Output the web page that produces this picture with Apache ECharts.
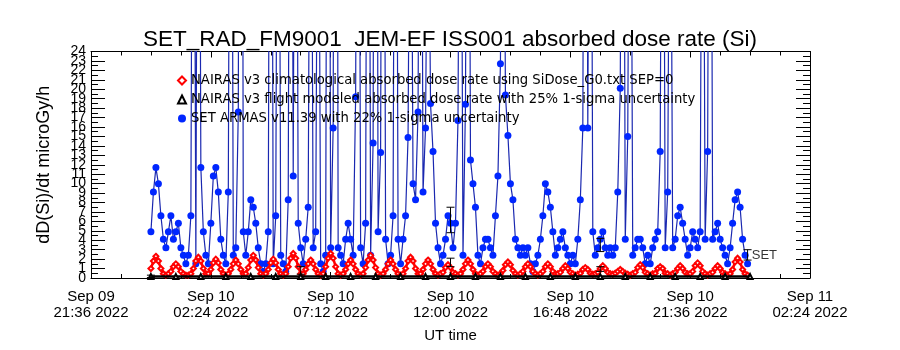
<!DOCTYPE html>
<html>
<head>
<meta charset="utf-8">
<title>SET_RAD_FM9001 JEM-EF ISS001</title>
<script src="https://cdn.jsdelivr.net/npm/echarts@6/dist/echarts.min.js"></script>
<style>
  html, body { margin: 0; padding: 0; background: #fff; }
  #myChart { width: 900px; height: 350px; }
</style>
</head>
<body>
<div id="myChart"></div>
<script>
// x axis runs in hours from Sep 09 2022 21:36 UT
var axisStart = Date.UTC(2022, 8, 9, 21, 36);
var axisHours = 28.8;
var tickHours = 4.8;
var yMin = 0;
var yMax = 24;

// NAIRAS climatological + SET ARMAS: 6 min samples from Sep 10 00:00 UT
var sampleStart = Date.UTC(2022, 8, 10, 0, 0);
var sampleStepMin = 6;

var climDose = [
  1.0,1.8,2.3,1.8,1.0,0.45,0.3,0.45,0.7,1.2,
  1.5,1.2,0.7,0.45,0.3,0.3,0.45,1.0,1.8,2.2,
  1.8,1.0,0.45,0.45,0.9,1.6,2.0,1.6,0.9,0.45,
  0.3,0.45,0.9,1.5,1.9,1.5,0.9,0.45,0.45,1.1,
  1.9,2.4,1.9,1.1,0.45,0.3,0.45,0.9,1.6,2.0,
  1.6,0.9,0.45,0.3,0.45,1.2,2.1,2.6,2.1,1.2,
  0.45,0.45,0.9,1.5,1.9,1.5,0.9,0.45,0.3,0.45,
  1.2,2.1,2.6,2.1,1.2,0.45,0.3,0.45,0.9,1.5,
  1.9,1.5,0.9,0.45,0.3,0.45,1.1,1.9,2.4,1.9,
  1.1,0.45,0.3,0.45,0.9,1.5,1.9,1.5,0.9,0.45,
  0.3,0.45,1.0,1.8,2.2,1.8,1.0,0.45,0.45,0.9,
  1.5,1.9,1.5,0.9,0.45,0.3,0.45,0.6,1.1,1.4,
  1.1,0.6,0.45,0.3,0.45,0.9,1.5,1.9,1.5,0.9,
  0.45,0.3,0.45,0.7,1.2,1.5,1.2,0.7,0.45,0.3,
  0.45,0.8,1.4,1.7,1.4,0.8,0.45,0.3,0.45,0.7,
  1.2,1.5,1.2,0.7,0.45,0.3,0.45,0.7,1.2,1.5,
  1.2,0.7,0.45,0.45,0.6,1.0,1.3,1.0,0.6,0.45,
  0.3,0.4,0.5,0.9,1.1,0.9,0.5,0.4,0.45,0.6,
  1.0,1.3,1.0,0.6,0.45,0.4,0.5,0.7,0.9,0.7,
  0.5,0.4,0.3,0.45,0.6,1.1,1.4,1.1,0.6,0.45,
  0.3,0.45,0.5,1.0,1.2,1.0,0.5,0.45,0.3,0.45,
  0.6,1.0,1.3,1.0,0.6,0.45,0.45,0.7,1.3,1.6,
  1.3,0.7,0.45,0.3,0.45,0.6,1.0,1.3,1.0,0.6,
  0.45,0.3,0.45,0.9,1.7,2.1,1.7,0.9,0.45,0.3
];

// values above 24 run off the top of the plot
var setDose = [
  4.9,9.1,11.7,10.0,6.6,4.1,3.2,4.9,6.6,4.1,
  4.9,5.8,3.2,2.4,1.5,2.4,6.6,80,1.5,90,
  11.7,4.9,2.4,1.5,5.8,10.8,11.7,9.1,4.1,2.4,
  1.5,9.1,90,2.4,3.2,17.6,150,4.9,2.4,4.9,
  8.3,7.5,5.8,3.2,1.5,0.7,1.5,4.9,100,1.5,
  6.6,80,2.4,1.5,0.7,8.3,100,10.8,90,5.8,
  3.2,1.5,4.1,7.5,70,3.2,4.9,60,1.5,0.7,
  2.4,110,3.2,15.9,140,3.2,2.4,1.5,4.1,5.8,
  4.1,2.4,19.2,90,3.2,1.5,5.8,100,2.4,14.3,
  130,4.9,13.3,100,4.1,1.5,2.4,6.6,90,4.1,
  1.5,4.1,6.6,14.9,60,10.0,8.3,17.6,80,9.1,
  15.9,50,18.5,13.4,5.8,3.2,1.5,2.4,4.1,6.6,
  5.8,3.2,5.8,16.7,70,2.4,18.4,90,12.5,10.0,
  7.5,2.4,1.5,3.2,4.1,4.1,3.2,2.4,6.6,10.8,
  22.7,70,19.4,15.1,10.0,8.3,4.1,3.2,2.4,3.2,
  2.4,3.2,1.5,0.7,1.5,2.4,4.1,6.6,10.0,9.1,
  7.5,4.9,2.4,3.2,4.1,4.9,3.2,2.4,1.5,2.4,
  1.5,4.1,8.3,15.9,100,15.9,80,4.9,2.4,3.2,
  4.1,4.9,3.2,2.4,3.2,2.4,3.2,9.1,20.1,90,
  4.1,15.0,70,2.4,3.2,4.1,4.1,3.2,1.5,2.4,
  1.5,3.2,4.1,4.9,13.4,80,3.2,9.1,60,3.2,
  4.1,6.6,7.5,5.8,4.1,2.4,3.2,4.9,4.1,3.2,
  4.9,70,4.1,13.4,90,4.1,4.9,5.8,4.1,3.2,
  2.4,1.5,3.2,5.8,8.3,9.1,7.5,4.1,2.4,1.5
];

// NAIRAS flight model, hourly
var flightStepMin = 60;
var flightDose = [
  0.15,0.15,0.15,0.15,0.15,0.15,0.15,0.15,0.15,0.15,0.15,0.15,0.15,
  0.15,0.15,0.15,0.15,0.15,0.15,0.15,0.15,0.15,0.15,0.15,0.15
];

// 1-sigma bars: [time UT, low, high]
var errBars = [
  ['2022-09-10T00:00Z', 0.05, 0.3],
  ['2022-09-10T06:00Z', 0.4, 1.2],
  ['2022-09-10T12:00Z', 4.8, 7.5],
  ['2022-09-10T12:00Z', 1.2, 2.1],
  ['2022-09-10T18:00Z', 2.8, 4.2],
  ['2022-09-10T18:00Z', 0.7, 1.2],
  ['2022-09-10T23:54Z', 1.9, 3.0]
];

var setLabelAt = ['2022-09-11T00:04Z', 2.35];

var climName = 'NAIRAS v3 climatological absorbed dose rate using SiDose_G0.txt SEP=0';
var flightName = 'NAIRAS v3 flight modeled absorbed dose rate with 25% 1-sigma uncertainty';
var setName = 'SET ARMAS v11.39 with 22% 1-sigma uncertainty';

var months = ['Jan','Feb','Mar','Apr','May','Jun','Jul','Aug','Sep','Oct','Nov','Dec'];

function toHours(ms) {
  return (ms - axisStart) / 3600000;
}
function pad(n) {
  return (n < 10 ? '0' : '') + n;
}
function sampled(values, stepMin) {
  return values.map(function (v, i) {
    return [toHours(sampleStart + i * stepMin * 60000), v];
  });
}
function timeLabel(v) {
  var d = new Date(axisStart + Math.round(v * 60) * 60000);
  return months[d.getUTCMonth()] + ' ' + pad(d.getUTCDate()) + '\n' +
    pad(d.getUTCHours()) + ':' + pad(d.getUTCMinutes()) + ' ' + d.getUTCFullYear();
}

function renderErr(params, api) {
  var x = api.value(0);
  var lo = api.coord([x, api.value(1)]);
  var hi = api.coord([x, api.value(2)]);
  var w = 4;
  var st = { stroke: '#000', lineWidth: 1 };
  return {
    type: 'group',
    children: [
      { type: 'line', shape: { x1: lo[0], y1: lo[1], x2: hi[0], y2: hi[1] }, style: st },
      { type: 'line', shape: { x1: lo[0] - w, y1: lo[1], x2: lo[0] + w, y2: lo[1] }, style: st },
      { type: 'line', shape: { x1: hi[0] - w, y1: hi[1], x2: hi[0] + w, y2: hi[1] }, style: st }
    ]
  };
}

var font = 'Liberation Sans';

var xBase = {
  type: 'value',
  min: 0,
  max: axisHours,
  interval: tickHours,
  axisLine: { onZero: false, lineStyle: { color: '#000', width: 1 } },
  axisTick: { inside: true, length: 6, lineStyle: { color: '#000' } },
  minorTick: { show: true, splitNumber: 4, length: 4, lineStyle: { color: '#000' } },
  splitLine: { show: false },
  minorSplitLine: { show: false }
};
var yBase = {
  type: 'value',
  min: yMin,
  max: yMax,
  interval: 1,
  axisLine: { show: true, onZero: false, lineStyle: { color: '#000', width: 1 } },
  axisTick: { show: true, inside: true, length: 14, lineStyle: { color: '#000' } },
  minorTick: { show: true, splitNumber: 2, length: 7, lineStyle: { color: '#000' } },
  splitLine: { show: false },
  minorSplitLine: { show: false }
};
// labels are split over two left axes (even / odd) so none of them get dropped
var yLabel = { margin: 5, hideOverlap: false, fontFamily: font, fontSize: 14, color: '#000' };
function evenLabel(v) { return v % 2 === 0 ? String(v) : ''; }
function oddLabel(v) { return v % 2 === 1 ? String(v) : ''; }

var chart = echarts.init(document.getElementById('myChart'));
chart.setOption({
  animation: false,
  backgroundColor: '#fff',
  title: {
    text: 'SET_RAD_FM9001  JEM-EF ISS001 absorbed dose rate (Si)',
    left: 'center',
    top: 23,
    textStyle: { fontFamily: font, fontSize: 22.5, fontWeight: 'normal', color: '#000' }
  },
  legend: {
    orient: 'vertical',
    left: 172,
    top: 69,
    itemGap: 6,
    itemWidth: 8,
    itemHeight: 8,
    selectedMode: false,
    textStyle: { fontFamily: 'DejaVu Sans', fontSize: 13.2, color: '#000', lineHeight: 13 },
    data: [
      { name: climName, icon: 'emptyDiamond' },
      { name: flightName, icon: 'emptyTriangle' },
      { name: setName, icon: 'circle' }
    ]
  },
  grid: { left: 91, right: 90, top: 51.5, bottom: 72, outerBoundsMode: 'none' },
  xAxis: [
    Object.assign({}, xBase, {
      position: 'bottom',
      name: 'UT time',
      nameLocation: 'middle',
      nameGap: 50,
      nameTextStyle: { fontFamily: font, fontSize: 15, color: '#000' },
      axisLabel: {
        formatter: timeLabel,
        margin: 11,
        hideOverlap: false,
        fontFamily: font,
        fontSize: 15,
        lineHeight: 16,
        color: '#000'
      }
    }),
    Object.assign({}, xBase, { position: 'top', axisLabel: { show: false } })
  ],
  yAxis: [
    Object.assign({}, yBase, {
      position: 'left',
      name: 'dD(Si)/dt microGy/h',
      nameLocation: 'middle',
      nameGap: 38,
      nameRotate: 90,
      nameTextStyle: { fontFamily: font, fontSize: 18, color: '#000' },
      axisLabel: Object.assign({ formatter: evenLabel, showMinLabel: true, showMaxLabel: true }, yLabel)
    }),
    Object.assign({}, yBase, { position: 'right', axisLabel: { show: false } }),
    Object.assign({}, yBase, {
      position: 'left',
      axisLine: { show: false, onZero: false },
      axisTick: { show: false },
      minorTick: { show: false },
      axisLabel: Object.assign({ formatter: oddLabel }, yLabel)
    })
  ],
  series: [
    {
      name: setName,
      type: 'line',
      data: sampled(setDose, sampleStepMin),
      symbol: 'circle',
      symbolSize: 7,
      itemStyle: { color: '#0026ff' },
      lineStyle: { color: '#1a28b0', width: 1.2 },
      emphasis: { disabled: true },
      z: 2
    },
    {
      name: climName,
      type: 'line',
      data: sampled(climDose, sampleStepMin),
      symbol: 'emptyDiamond',
      symbolSize: 5,
      itemStyle: { color: '#ff0000', borderWidth: 1.2 },
      lineStyle: { color: '#ff0000', width: 2.5 },
      emphasis: { disabled: true },
      z: 3
    },
    {
      name: flightName,
      type: 'line',
      data: sampled(flightDose, flightStepMin),
      symbol: 'emptyTriangle',
      symbolSize: 5,
      itemStyle: { color: '#000' },
      lineStyle: { color: '#000', width: 2.5 },
      emphasis: { disabled: true },
      z: 4
    },
    {
      name: 'errors',
      type: 'custom',
      renderItem: renderErr,
      data: errBars.map(function (e) { return [toHours(Date.parse(e[0])), e[1], e[2]]; }),
      z: 5
    },
    {
      name: 'setLabel',
      type: 'scatter',
      data: [[toHours(Date.parse(setLabelAt[0])), setLabelAt[1]]],
      symbolSize: 0,
      label: {
        show: true,
        position: 'right',
        distance: 0,
        formatter: 'SET',
        fontFamily: font,
        fontSize: 13,
        color: '#000'
      },
      z: 6
    }
  ]
});
</script>
</body>
</html>
